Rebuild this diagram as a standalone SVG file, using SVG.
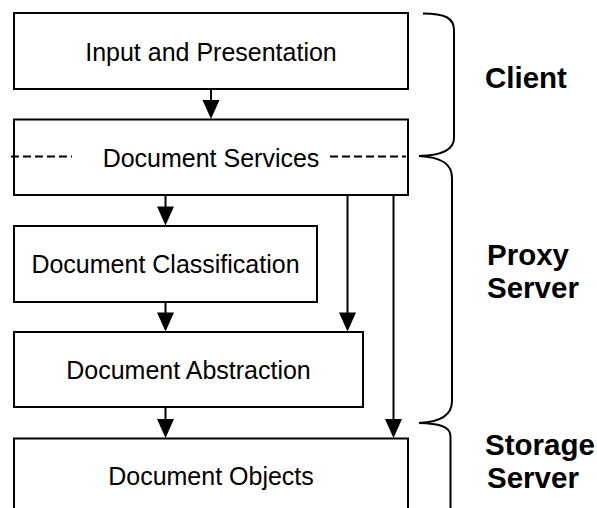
<svg xmlns="http://www.w3.org/2000/svg" width="597" height="508" viewBox="0 0 597 508">
<style>
.box{fill:#fff;stroke:#000;stroke-width:2}
.t{font-family:"Liberation Sans",Arial,sans-serif;font-size:25px;fill:#000;text-anchor:middle}
.lbl{font-family:"Liberation Sans",Arial,sans-serif;font-size:29.5px;font-weight:bold;fill:#000}
.ln{fill:none;stroke:#000;stroke-width:2}
.dash{fill:none;stroke:#000;stroke-width:2;stroke-dasharray:8,4}
.brace{fill:none;stroke:#000;stroke-width:2}
.head{fill:#000;stroke:none}
</style>
<defs>
<path id="ah" class="head" d="M-8.5,-19 L8.5,-19 L0,0 Z"/>
</defs>
<g id="input"><rect class="box" x="14" y="13" width="394" height="76"/><text class="t" x="211" y="61">Input and Presentation</text></g>
<g id="services"><rect class="box" x="14" y="119.5" width="394" height="75.5"/><text class="t" x="211" y="167">Document Services</text>
<line class="dash" x1="11" y1="156.5" x2="72" y2="156.5"/><line class="dash" x1="330" y1="156.5" x2="406" y2="156.5"/></g>
<g id="classification"><rect class="box" x="14" y="226" width="303" height="76"/><text class="t" x="165.5" y="272.5">Document Classification</text></g>
<g id="abstraction"><rect class="box" x="14" y="332" width="349" height="75"/><text class="t" x="188.5" y="378.5">Document Abstraction</text></g>
<g id="objects"><rect class="box" x="14" y="438.5" width="394" height="80"/><text class="t" x="211" y="485">Document Objects</text></g>
<g id="connectors">
<line class="ln" x1="211" y1="89" x2="211" y2="105"/><use href="#ah" x="211" y="119"/>
<line class="ln" x1="165.5" y1="195" x2="165.5" y2="212"/><use href="#ah" x="165.5" y="225.5"/>
<line class="ln" x1="165.5" y1="302" x2="165.5" y2="318"/><use href="#ah" x="165.5" y="331.5"/>
<line class="ln" x1="165.5" y1="407" x2="165.5" y2="424"/><use href="#ah" x="165.5" y="438"/>
<line class="ln" x1="347.5" y1="195" x2="347.5" y2="318"/><use href="#ah" x="347.5" y="331.5"/>
<line class="ln" x1="393.5" y1="195" x2="393.5" y2="424"/><use href="#ah" x="393.5" y="438"/>
</g>
<g id="braces">
<path class="brace" d="M423,13.5 C445,13.5 454,18 454,30 L454,138 C454,150 442,155.5 419,156"/>
<path class="brace" d="M419,156 C440,157 452,163 452,178 L452,401 C452,414 442,422 419,423"/>
<path class="brace" d="M419,423 C438,423.5 450.5,426 450.5,436 L450.5,508"/>
</g>
<g id="labels">
<text class="lbl" x="485" y="88">Client</text>
<text class="lbl" x="487" y="265">Proxy</text>
<text class="lbl" x="487" y="298">Server</text>
<text class="lbl" x="485" y="455">Storage</text>
<text class="lbl" x="487" y="488">Server</text>
</g>
</svg>
